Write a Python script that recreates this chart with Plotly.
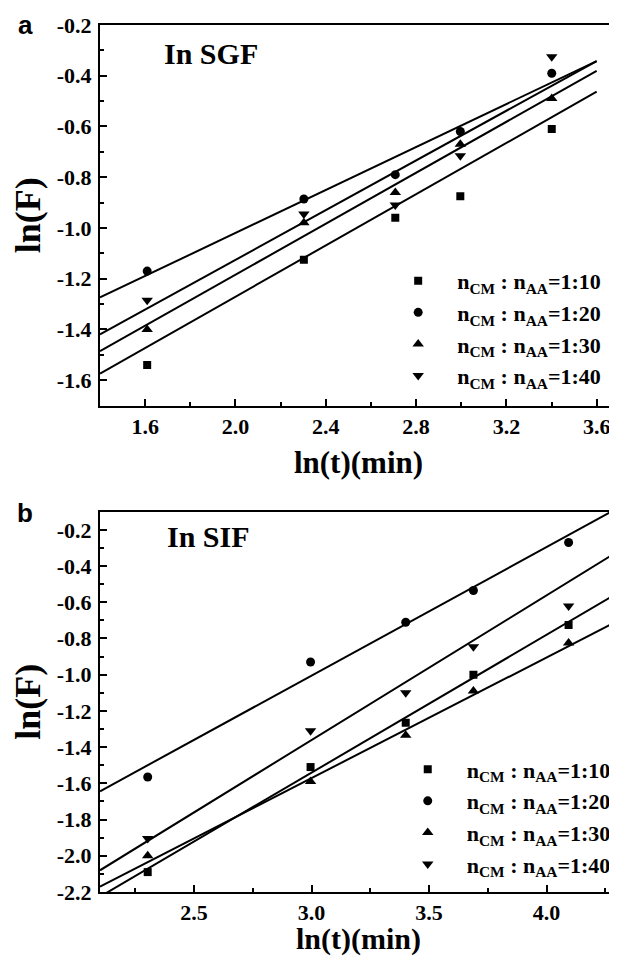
import numpy as np
import plotly.graph_objects as go

# ---------------- data ----------------
series_names = ["n<sub>CM</sub> : n<sub>AA</sub>=1:10",
                "n<sub>CM</sub> : n<sub>AA</sub>=1:20",
                "n<sub>CM</sub> : n<sub>AA</sub>=1:30",
                "n<sub>CM</sub> : n<sub>AA</sub>=1:40"]
symbols = ["square", "circle", "triangle-up", "triangle-down"]
marker_sizes = [8, 9, 10, 10]

# Panel a: In SGF
x_sgf = [1.609, 2.303, 2.708, 2.996, 3.401]
sgf_1_10 = [-1.54, -1.125, -0.96, -0.875, -0.61]
sgf_1_20 = [-1.17, -0.886, -0.79, -0.62, -0.39]
sgf_1_30 = [-1.40, -0.98, -0.86, -0.67, -0.49]
sgf_1_40 = [-1.285, -0.945, -0.91, -0.715, -0.325]
sgf_fit_slope = [0.505, 0.4236, 0.5023, 0.49]
sgf_fit_intercept = [-2.281, -1.867, -2.189, -2.106]
sgf_fit_x = [1.4, 3.6]
sgf_xticks = [1.6, 2.0, 2.4, 2.8, 3.2, 3.6]
sgf_xticklabels = ["1.6", "2.0", "2.4", "2.8", "3.2", "3.6"]
sgf_yticks = [-0.2, -0.4, -0.6, -0.8, -1.0, -1.2, -1.4, -1.6]
sgf_yticklabels = ["-0.2", "-0.4", "-0.6", "-0.8", "-1.0", "-1.2", "-1.4", "-1.6"]

# Panel b: In SIF
x_sif = [2.303, 2.996, 3.401, 3.689, 4.094]
sif_1_10 = [-2.09, -1.51, -1.265, -1.0, -0.725]
sif_1_20 = [-1.565, -0.93, -0.71, -0.535, -0.27]
sif_1_30 = [-2.0, -1.59, -1.335, -1.09, -0.825]
sif_1_40 = [-1.905, -1.31, -1.10, -0.845, -0.62]
sif_fit_slope = [0.761, 0.7096, 0.666, 0.799]
sif_fit_intercept = [-3.824, -3.134, -3.569, -3.758]
sif_fit_x = [2.1, 4.3]
sif_xticks = [2.5, 3.0, 3.5, 4.0]
sif_xticklabels = ["2.5", "3.0", "3.5", "4.0"]
sif_yticks = [-0.2, -0.4, -0.6, -0.8, -1.0, -1.2, -1.4, -1.6, -1.8, -2.0, -2.2]
sif_yticklabels = ["-0.2", "-0.4", "-0.6", "-0.8", "-1.0", "-1.2", "-1.4",
                   "-1.6", "-1.8", "-2.0", "-2.2"]

SERIF = "Liberation Serif, Times New Roman, serif"
SANS = "Liberation Sans, Arial, sans-serif"

fig = go.Figure()

def add_panel(xv, ys, slopes, intercepts, fitx, xaxis, yaxis, legend):
    for i, y in enumerate(ys):
        fx = np.array(fitx)
        fig.add_trace(go.Scatter(
            x=fx, y=slopes[i] * fx + intercepts[i], mode="lines",
            line=dict(color="black", width=2), showlegend=False,
            xaxis=xaxis, yaxis=yaxis, hoverinfo="skip"))
    for i, y in enumerate(ys):
        fig.add_trace(go.Scatter(
            x=xv, y=y, mode="markers", name=series_names[i],
            marker=dict(symbol=symbols[i], size=marker_sizes[i], color="black"),
            xaxis=xaxis, yaxis=yaxis, legend=legend))

add_panel(x_sgf, [sgf_1_10, sgf_1_20, sgf_1_30, sgf_1_40],
          sgf_fit_slope, sgf_fit_intercept, sgf_fit_x, "x", "y", "legend")
add_panel(x_sif, [sif_1_10, sif_1_20, sif_1_30, sif_1_40],
          sif_fit_slope, sif_fit_intercept, sif_fit_x, "x2", "y2", "legend2")

tickfont = dict(family=SERIF, size=22, color="black", weight="bold")

def xaxis_style(rng, tv, tt, minor_tick0, minor_dtick, anchor, standoff, tsize):
    return dict(range=rng, tickmode="array", tickvals=tv, ticktext=tt,
                ticks="inside", ticklen=7,
                tickwidth=1.5, tickcolor="black", showline=True, linecolor="black",
                linewidth=2, mirror=True, showgrid=False, zeroline=False,
                tickfont=tickfont, anchor=anchor, domain=[0, 1],
                minor=dict(tick0=minor_tick0, dtick=minor_dtick, ticks="inside",
                           ticklen=4, tickwidth=1.5, tickcolor="black", showgrid=False),
                title=dict(text="ln(t)(min)",
                           font=dict(family=SERIF, size=tsize, color="black", weight="bold"),
                           standoff=standoff))

def yaxis_style(rng, tv, tt, domain, anchor):
    return dict(range=rng, tickmode="array", tickvals=tv, ticktext=tt,
                ticks="inside", ticklen=7,
                tickwidth=1.5, tickcolor="black", showline=True, linecolor="black",
                linewidth=2, showgrid=False, zeroline=False,
                tickfont=tickfont, anchor=anchor, domain=domain,
                ticklabelstandoff=2,
                minor=dict(tick0=-0.1, dtick=0.1, ticks="inside", ticklen=4,
                           tickwidth=1.5, tickcolor="black", showgrid=False),
                title=dict(text="ln(F)",
                           font=dict(family=SERIF, size=36, color="black", weight="bold"),
                           standoff=10))

legend_common = dict(font=dict(family=SERIF, size=22, color="black", weight="bold"),
                     bgcolor="rgba(0,0,0,0)", borderwidth=0, tracegroupgap=0,
                     xref="paper", yref="paper", xanchor="left", yanchor="top",
                     itemwidth=68)

fig.update_layout(
    width=609, height=948,
    margin=dict(l=92, r=0, t=17, b=64),
    paper_bgcolor="white", plot_bgcolor="white",
    font=dict(family=SERIF, color="black"),
    xaxis=xaxis_style([1.4, 3.69], sgf_xticks, sgf_xticklabels, 1.4, 0.2, "y", 13, 31),
    yaxis=yaxis_style([-1.7, -0.2], sgf_yticks, sgf_yticklabels, [0.5611, 1.0], "x"),
    xaxis2=xaxis_style([2.1, 4.3], sif_xticks, sif_xticklabels, 2.25, 0.25, "y2", 9, 30),
    yaxis2=yaxis_style([-2.2, -0.1], sif_yticks, sif_yticklabels, [0.0, 0.4386], "x2"),
    legend=dict(x=0.540, y=0.729, **legend_common),
    legend2=dict(x=0.5585, y=0.1656, **legend_common),
    showlegend=True,
)

annotations = [
    dict(text="<b>In SGF</b>", x=0.12, y=0.967, xref="paper", yref="paper",
         xanchor="left", yanchor="middle", showarrow=False,
         font=dict(family=SERIF, size=30, color="black")),
    dict(text="<b>In SIF</b>", x=0.125, y=0.41, xref="paper", yref="paper",
         xanchor="left", yanchor="middle", showarrow=False,
         font=dict(family=SERIF, size=30, color="black")),
    dict(text="<b>a</b>", x=-0.145, y=1.0, xref="paper", yref="paper",
         xanchor="center", yanchor="middle", showarrow=False,
         font=dict(family=SANS, size=26, color="black")),
    dict(text="<b>b</b>", x=-0.145, y=0.437, xref="paper", yref="paper",
         xanchor="center", yanchor="middle", showarrow=False,
         font=dict(family=SANS, size=26, color="black")),
]
fig.update_layout(annotations=annotations)

fig.write_html("out.html")
